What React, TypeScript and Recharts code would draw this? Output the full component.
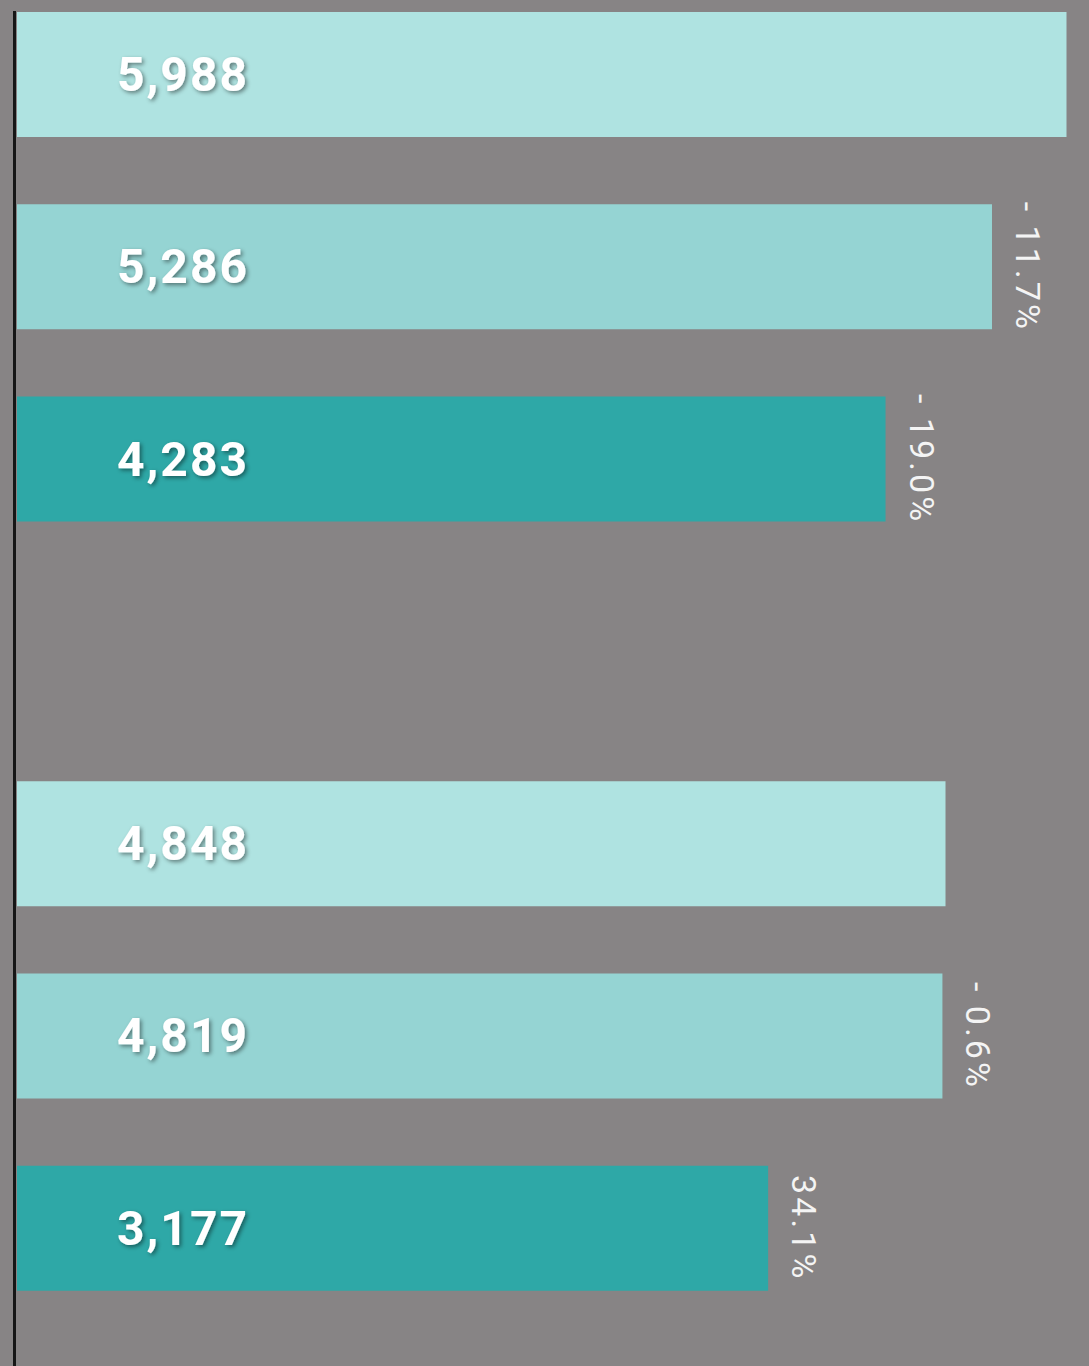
import { BarChart, Bar, XAxis, YAxis, Cell, LabelList } from "recharts";

// rows of the chart, top to bottom; "gap" is the empty slot between the two groups
const rows = ["A1", "A2", "A3", "gap", "B1", "B2", "B3"];
const values = [5988, 5286, 4283, null, 4848, 4819, 3177];
const changes = [null, -11.7, -19.0, null, null, -0.6, 34.1];

const X_MIN = -3900;
const X_MAX = 6200;

const shades = ["#afe3e1", "#95d4d3", "#2ea8a7"];
const BG = "#878485";

const data = rows.map((row, i) => ({ row, value: values[i], change: changes[i] }));

const fmtChange = (c: number) => (c < 0 ? `- ${Math.abs(c).toFixed(1)}%` : `${c.toFixed(1)}%`);

const ValueLabel = (props: any) => {
  const { x, y, height, value } = props;
  if (value == null) return null;
  return (
    <text
      x={Number(x) + 100}
      y={Number(y) + Number(height) / 2}
      dominantBaseline="central"
      fill="#ffffff"
      fontFamily="Roboto, 'DejaVu Sans', sans-serif"
      fontWeight={700}
      fontSize={48}
      letterSpacing={2}
      filter="url(#txtShadow)"
    >
      {Number(value).toLocaleString("en-US")}
    </text>
  );
};

const ChangeLabel = (props: any) => {
  const { x, y, width, height, value } = props;
  if (value == null) return null;
  const cx = Number(x) + Number(width) + 36;
  const cy = Number(y) + Number(height) / 2;
  return (
    <text
      x={cx}
      y={cy}
      transform={`rotate(90 ${cx} ${cy})`}
      textAnchor="middle"
      dominantBaseline="central"
      fill="#f4f4f4"
      fontFamily="Roboto, 'DejaVu Sans', sans-serif"
      fontWeight={400}
      fontSize={34}
      letterSpacing={3}
    >
      {fmtChange(Number(value))}
    </text>
  );
};

export default function App() {
  return (
    <div
      style={{
        position: "absolute",
        left: 0,
        top: 0,
        width: 1089,
        height: 1366,
        background: BG,
        overflow: "hidden",
      }}
    >
      <div style={{ position: "absolute", left: 0, top: -22 }}>
        <BarChart
          width={1089}
          height={1346}
          data={data}
          layout="vertical"
          margin={{ top: 0, right: 0, left: 17, bottom: 0 }}
        >
          <defs>
            <filter id="txtShadow" x="-20%" y="-40%" width="140%" height="180%">
              <feDropShadow dx="2" dy="2" stdDeviation="2" floodColor="#000" floodOpacity="0.45" />
            </filter>
          </defs>
          <XAxis type="number" domain={[X_MIN, X_MAX]} hide />
          <YAxis type="category" dataKey="row" hide />
          <Bar
            dataKey={(d: any) => (d.value == null ? null : [X_MIN, d.value])}
            barSize={125}
            isAnimationActive={false}
          >
            {data.map((d, i) => (
              <Cell key={d.row} fill={shades[(i > 3 ? i - 4 : i) % 3]} />
            ))}
            <LabelList dataKey="value" content={ValueLabel} />
            <LabelList dataKey="change" content={ChangeLabel} />
          </Bar>
        </BarChart>
      </div>
      <div
        style={{
          position: "absolute",
          left: 13,
          top: 11,
          width: 3,
          height: 1355,
          background: "#161616",
        }}
      />
    </div>
  );
}
